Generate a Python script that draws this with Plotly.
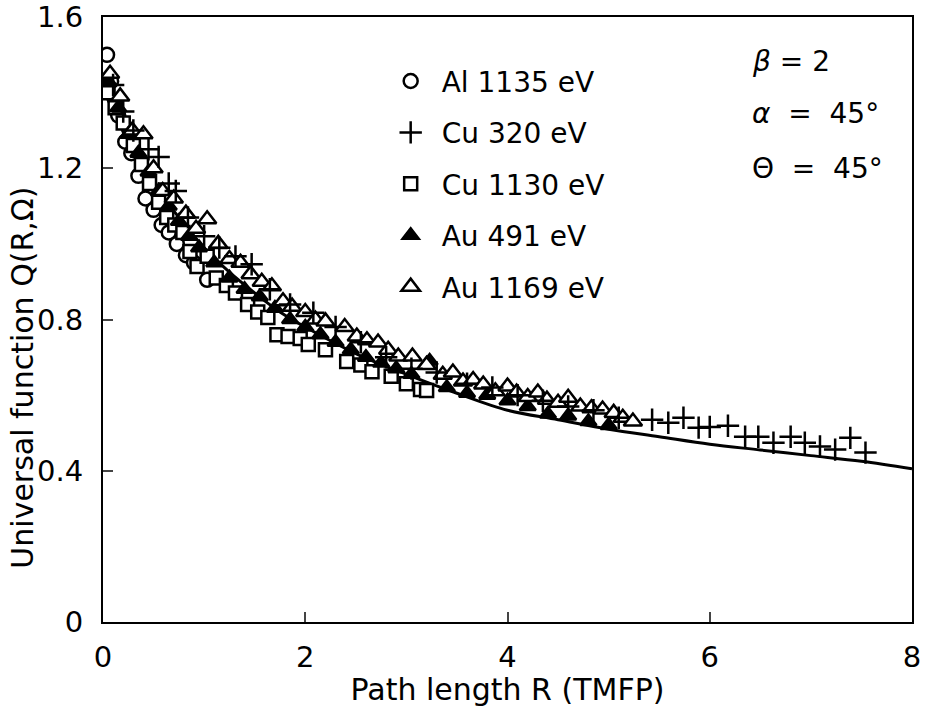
import plotly.graph_objects as go

# ---- data ----
curve_R = [0, 0.25, 0.5, 0.75, 1.0, 1.25, 1.5, 1.75, 2.0, 2.5, 3.0, 3.5, 4.0, 4.5, 5.0, 5.5, 6.0, 6.5, 7.0, 7.5, 8.0]
curve_Q = [1.41, 1.27, 1.16, 1.07, 0.99, 0.925, 0.87, 0.82, 0.78, 0.71, 0.655, 0.605, 0.56, 0.535, 0.51, 0.49, 0.47, 0.455, 0.44, 0.425, 0.405]

al1135_R = [0.04, 0.08, 0.15, 0.22, 0.28, 0.35, 0.42, 0.5, 0.58, 0.65, 0.73, 0.82, 0.9, 1.03]
al1135_Q = [1.50, 1.43, 1.34, 1.27, 1.24, 1.18, 1.12, 1.09, 1.05, 1.03, 1.00, 0.97, 0.95, 0.905]

cu320_R = [0.1, 0.2, 0.3, 0.45, 0.55, 0.65, 0.72, 0.84, 1.0, 1.15, 1.31, 1.47, 1.65, 1.85, 2.08, 2.3, 2.55, 2.8, 3.05,
           3.3, 3.6, 3.85, 4.1, 4.35, 4.6, 4.85, 5.1, 5.43, 5.59, 5.74, 5.89, 6.0, 6.18, 6.35, 6.48, 6.63, 6.8, 6.94,
           7.09, 7.24, 7.39, 7.54]
cu320_Q = [1.42, 1.35, 1.30, 1.25, 1.23, 1.16, 1.14, 1.07, 1.02, 0.99, 0.967, 0.946, 0.88, 0.84, 0.818, 0.78, 0.74,
           0.70, 0.67, 0.66, 0.63, 0.62, 0.60, 0.585, 0.57, 0.56, 0.54, 0.535, 0.527, 0.54, 0.514, 0.516, 0.519, 0.49,
           0.49, 0.474, 0.49, 0.474, 0.464, 0.456, 0.487, 0.448]

cu1130_R = [0.05, 0.12, 0.2, 0.3, 0.38, 0.46, 0.55, 0.63, 0.71, 0.79, 0.86, 0.93, 1.03, 1.12, 1.22, 1.31, 1.43, 1.53,
            1.63, 1.72, 1.83, 1.95, 2.03, 2.2, 2.41, 2.55, 2.66, 2.85, 3.0, 3.14, 3.2]
cu1130_Q = [1.40, 1.36, 1.32, 1.26, 1.21, 1.16, 1.11, 1.07, 1.05, 1.03, 0.98, 0.94, 0.967, 0.91, 0.89, 0.87, 0.84,
            0.82, 0.805, 0.76, 0.755, 0.75, 0.734, 0.72, 0.689, 0.68, 0.662, 0.65, 0.63, 0.615, 0.612]

au491_R = [0.05, 0.15, 0.25, 0.35, 0.45, 0.55, 0.65, 0.75, 0.85, 0.95, 1.1, 1.25, 1.4, 1.55, 1.7, 1.85, 2.0, 2.15,
           2.3, 2.45, 2.6, 2.75, 2.9, 3.05, 3.23, 3.4, 3.6, 3.8, 4.0, 4.2, 4.4, 4.6, 4.8, 5.0]
au491_Q = [1.43, 1.36, 1.29, 1.24, 1.19, 1.14, 1.10, 1.06, 1.02, 0.99, 0.95, 0.91, 0.88, 0.86, 0.83, 0.80, 0.78,
           0.76, 0.74, 0.72, 0.70, 0.685, 0.67, 0.655, 0.69, 0.62, 0.605, 0.60, 0.585, 0.57, 0.55, 0.545, 0.53, 0.52]

au1169_R = [0.07, 0.17, 0.29, 0.4, 0.5, 0.59, 0.7, 0.82, 0.92, 1.03, 1.14, 1.25, 1.36, 1.46, 1.57, 1.67, 1.78, 1.87,
            2.0, 2.1, 2.2, 2.39, 2.51, 2.61, 2.72, 2.82, 2.92, 3.06, 3.2, 3.36, 3.46, 3.56, 3.66, 3.76, 3.88, 4.0,
            4.09, 4.2, 4.3, 4.39, 4.5, 4.6, 4.72, 4.83, 4.94, 5.05, 5.14, 5.24]
au1169_Q = [1.45, 1.39, 1.30, 1.29, 1.20, 1.14, 1.12, 1.08, 1.04, 1.065, 1.00, 0.96, 0.95, 0.92, 0.90, 0.888, 0.848,
            0.834, 0.82, 0.80, 0.795, 0.78, 0.755, 0.745, 0.739, 0.72, 0.702, 0.702, 0.68, 0.654, 0.66, 0.636, 0.64,
            0.628, 0.61, 0.623, 0.607, 0.595, 0.607, 0.588, 0.58, 0.593, 0.57, 0.565, 0.562, 0.553, 0.54, 0.53]

x_ticks = [0, 2, 4, 6, 8]
x_labels = ["0", "2", "4", "6", "8"]
y_ticks = [0, 0.4, 0.8, 1.2, 1.6]
y_labels = ["0", "0.4", "0.8", "1.2", "1.6"]

FONT = "DejaVu Sans"

fig = go.Figure()
fig.add_trace(go.Scatter(x=curve_R, y=curve_Q, mode="lines", line=dict(color="black", width=3, shape="spline"),
                         showlegend=False, hoverinfo="skip"))

def add(name, R, Q, symbol, size, fill, rank):
    fig.add_trace(go.Scatter(
        x=R, y=Q, mode="markers", name=name, legendgroup=name, legendrank=rank,
        marker=dict(symbol=symbol, size=size, color=fill, line=dict(color="black", width=2.5))))

add("Al 1135 eV", al1135_R, al1135_Q, "circle", 14, "white", 1)
add("Cu 1130 eV", cu1130_R, cu1130_Q, "square", 13, "white", 3)
add("Au 491 eV", au491_R, au491_Q, "triangle-up", 14, "black", 4)
add("Au 1169 eV", au1169_R, au1169_Q, "triangle-up", 16, "white", 5)
add("Cu 320 eV", cu320_R, cu320_Q, "cross-thin", 16, "black", 2)

annots = [("<i>β</i> = 2", 0.926), ("<i>α</i>  =  45°", 0.841), ("Θ  =  45°", 0.750)]
for txt, yy in annots:
    fig.add_annotation(text=txt, x=0.800, y=yy, xref="paper", yref="paper", xanchor="left", yanchor="middle",
                       showarrow=False, font=dict(family=FONT, size=28, color="black"))

# y-axis title as a rotated annotation, centred on the plot area
fig.add_annotation(text="Universal function Q(R,Ω)", x=-0.100, y=0.404, xref="paper", yref="paper",
                   xanchor="center", yanchor="middle", textangle=-90, showarrow=False,
                   font=dict(family=FONT, size=30, color="black"))

fig.update_layout(
    width=925, height=707, margin=dict(l=103, r=13, t=17, b=85, autoexpand=False),
    paper_bgcolor="white", plot_bgcolor="white",
    font=dict(family=FONT, size=29, color="black"),
    legend=dict(x=0.342, y=0.935, xanchor="left", yanchor="top", bgcolor="rgba(0,0,0,0)",
                font=dict(family=FONT, size=28), tracegroupgap=12, itemwidth=52),
    xaxis=dict(range=[0, 8], tickvals=x_ticks, ticktext=x_labels, ticks="inside", ticklen=10, tickwidth=2,
               showline=True, linewidth=2, linecolor="black", mirror=True, showgrid=False, zeroline=False,
               tickfont=dict(size=29), ticklabelstandoff=8, automargin=False,
               title=dict(text="Path length R (TMFP)", font=dict(size=30), standoff=9)),
    yaxis=dict(range=[0, 1.6], tickvals=y_ticks, ticktext=y_labels, ticks="inside", ticklen=10, tickwidth=2,
               showline=True, linewidth=2, linecolor="black", mirror=True, showgrid=False, zeroline=False,
               tickfont=dict(size=29), ticklabelstandoff=12, automargin=False),
)

fig.write_html("out.html")
